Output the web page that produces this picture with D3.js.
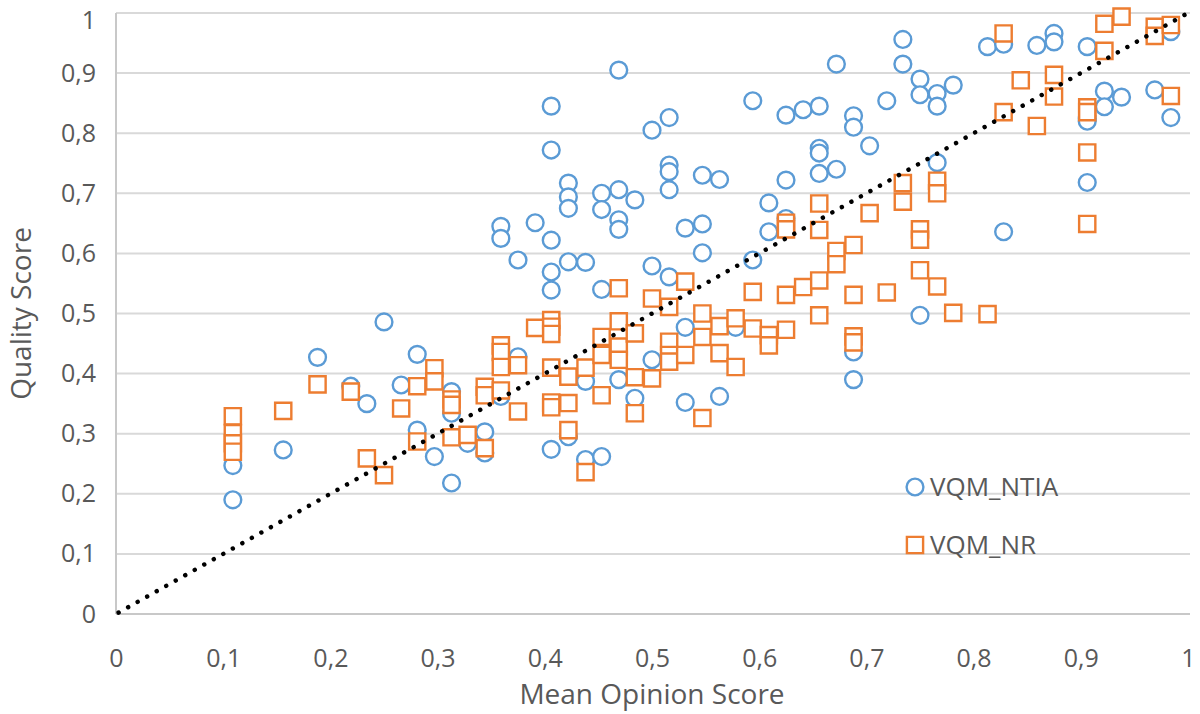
<!DOCTYPE html>
<html><head><meta charset="utf-8">
<script src="https://cdn.jsdelivr.net/npm/d3@7"></script>
<style>
body{margin:0;background:#fff}
svg{display:block}
text{font-family:"Open Sans",sans-serif;fill:#595959}
</style>
</head><body>
<svg id="chart" width="1200" height="714"></svg>
<script>
// MOS levels and quality scores, VQM_NTIA
const ntiaMOS = [0.109,0.156,0.188,0.219,0.234,0.25,0.266,0.281,0.297,0.313,0.328,0.344,0.359,0.375,0.391,0.406,0.422,0.438,0.453,0.469,0.484,0.5,0.516,0.531,0.547,0.563,0.578,0.594,0.609,0.625,0.641,0.656,0.672,0.688,0.703,0.719,0.734,0.75,0.766,0.781,0.813,0.828,0.859,0.875,0.906,0.922,0.938,0.969,0.984];
const ntiaScores = [
 [0.247,0.190],[0.273],[0.427],[0.379],[0.350],[0.486],[0.381],[0.432,0.306],[0.262],[0.370,0.334,0.218],
 [0.284],[0.303,0.268],[0.645,0.625,0.362],[0.589,0.428],[0.651],[0.845,0.772,0.622,0.569,0.539,0.274],
 [0.717,0.694,0.675,0.586,0.295],[0.585,0.387,0.257],[0.700,0.673,0.540,0.262],[0.905,0.706,0.656,0.640,0.390],
 [0.689,0.359],[0.805,0.579,0.423],[0.826,0.747,0.736,0.706,0.561],[0.642,0.477,0.352],[0.730,0.649,0.601],
 [0.723,0.362],[0.477],[0.854,0.589],[0.684,0.636],[0.830,0.722,0.658],[0.839],[0.845,0.775,0.767,0.733],
 [0.915,0.740],[0.829,0.810,0.436,0.390],[0.779],[0.854],[0.956,0.915],[0.890,0.864,0.497],[0.866,0.845,0.751],
 [0.880],[0.944],[0.948,0.636],[0.946],[0.966,0.952],[0.944,0.825,0.820,0.718],[0.870,0.844],[0.860],[0.872],[0.969,0.826]
];
// MOS levels and quality scores, VQM_NR
const nrMOS = [0.109,0.156,0.188,0.219,0.234,0.25,0.266,0.281,0.297,0.313,0.328,0.344,0.359,0.375,0.391,0.406,0.422,0.438,0.453,0.469,0.484,0.5,0.516,0.531,0.547,0.563,0.578,0.594,0.609,0.625,0.641,0.656,0.672,0.688,0.703,0.719,0.734,0.75,0.766,0.781,0.813,0.828,0.844,0.859,0.875,0.906,0.922,0.938,0.969,0.984];
const nrScores = [
 [0.329,0.301,0.284,0.270],[0.338],[0.382],[0.370],[0.259],[0.231],[0.342],[0.379,0.287],[0.409,0.387],
 [0.357,0.348,0.294],[0.298],[0.378,0.364,0.276],[0.447,0.436,0.411,0.372],[0.414,0.337],[0.476],
 [0.489,0.478,0.466,0.410,0.352,0.344],[0.395,0.351,0.306],[0.410,0.236],[0.461,0.431,0.364],
 [0.542,0.487,0.445,0.423],[0.467,0.394,0.334],[0.525,0.392],[0.511,0.453,0.431,0.420],[0.553,0.431],
 [0.500,0.461,0.326],[0.479,0.434],[0.492,0.411],[0.536,0.475],[0.464,0.447],[0.651,0.640,0.531,0.473],
 [0.544],[0.683,0.639,0.555,0.497],[0.604,0.582],[0.614,0.531,0.462,0.452],[0.667],[0.535],[0.717,0.686],
 [0.640,0.623,0.572],[0.721,0.700,0.545],[0.501],[0.499],[0.966,0.835],[0.888],[0.812],[0.897,0.861],
 [0.843,0.835,0.768,0.649],[0.982,0.937],[0.994],[0.977,0.962],[0.980,0.862]
];
const tickValues = [0,0.1,0.2,0.3,0.4,0.5,0.6,0.7,0.8,0.9,1];
const seriesNames = ["VQM_NTIA","VQM_NR"];
const refLine = [[0,0],[1,1]];
const xTitle = "Mean Opinion Score";
const yTitle = "Quality Score";

(function draw() {
const svg = d3.select("#chart");
const pL = 116, pR = 1188, pT = 13, pB = 614;
const x = d3.scaleLinear().domain([0,1]).range([pL,pR]);
const y = d3.scaleLinear().domain([0,1]).range([pB,pT]);
const fmt = d => d === 0 ? "0" : d === 1 ? "1" : d3.format(".1f")(d).replace(".", ",");

// gridlines
svg.append("g").selectAll("line").data(tickValues.filter(d => d > 0)).join("line")
  .attr("x1", pL).attr("x2", pR + 2)
  .attr("y1", d => y(d)).attr("y2", d => y(d))
  .attr("stroke", "#d9d9d9").attr("stroke-width", 2);
// axis lines
svg.append("line").attr("x1", pL).attr("x2", pR + 2).attr("y1", y(0)).attr("y2", y(0))
  .attr("stroke", "#c8c8c8").attr("stroke-width", 2);
svg.append("line").attr("x1", pL).attr("x2", pL).attr("y1", y(1)).attr("y2", y(0))
  .attr("stroke", "#c8c8c8").attr("stroke-width", 2);

// axes (labels only)
const xAxis = svg.append("g").attr("transform", `translate(0,${pB})`)
  .call(d3.axisBottom(x).tickValues(tickValues).tickFormat(fmt).tickSize(0).tickPadding(35));
const yAxis = svg.append("g").attr("transform", `translate(${pL},0)`)
  .call(d3.axisLeft(y).tickValues(tickValues).tickFormat(fmt).tickSize(0).tickPadding(20));
[xAxis, yAxis].forEach(a => {
  a.select(".domain").remove();
  a.selectAll("text").attr("font-size", 25).attr("fill", "#595959")
    .attr("font-family", '"Open Sans",sans-serif');
});
// keep the top label inside the picture
yAxis.selectAll(".tick").filter(d => d === 1).select("text").attr("dy", "0.62em");

// titles
svg.append("text").attr("x", (pL + pR) / 2).attr("y", 704).attr("text-anchor", "middle")
  .attr("font-size", 28).text(xTitle);
svg.append("text").attr("transform", `translate(31,${(pT + pB) / 2}) rotate(-90)`)
  .attr("text-anchor", "middle").attr("font-size", 28).text(yTitle);

const flatten = (mos, scores) => mos.flatMap((m, i) => scores[i].map(s => ({m, s})));
const ntia = flatten(ntiaMOS, ntiaScores);
const nr = flatten(nrMOS, nrScores);

const circ = d3.symbol().type(d3.symbolCircle).size(Math.PI * 8.4 * 8.4);
const sq = d3.symbol().type(d3.symbolSquare).size(16.2 * 16.2);

svg.append("g").selectAll("path").data(ntia).join("path")
  .attr("d", circ).attr("transform", d => `translate(${x(d.m)},${y(d.s)})`)
  .attr("fill", "#fff").attr("stroke", "#5b9bd5").attr("stroke-width", 2.4);
svg.append("g").selectAll("path").data(nr).join("path")
  .attr("d", sq).attr("transform", d => `translate(${x(d.m)},${y(d.s)})`)
  .attr("fill", "#fff").attr("stroke", "#ed7d31").attr("stroke-width", 2.4);

// reference line y = x
svg.append("path").datum(refLine)
  .attr("d", d3.line().x(d => x(d[0])).y(d => y(d[1])))
  .attr("fill", "none").attr("stroke", "#000").attr("stroke-width", 4.5)
  .attr("stroke-linecap", "round").attr("stroke-dasharray", "0.01 10.9")
  .attr("stroke-dashoffset", -3);

// legend
const lg = svg.append("g");
lg.append("path").attr("d", circ).attr("transform", `translate(915,487)`)
  .attr("fill", "#fff").attr("stroke", "#5b9bd5").attr("stroke-width", 2.4);
lg.append("path").attr("d", sq).attr("transform", `translate(915,545)`)
  .attr("fill", "#fff").attr("stroke", "#ed7d31").attr("stroke-width", 2.4);
lg.selectAll("text").data(seriesNames).join("text")
  .attr("x", 930).attr("y", (d, i) => 487 + i * 58).attr("dy", "0.35em")
  .attr("font-size", 26).text(d => d);
})();
</script>
</body></html>
